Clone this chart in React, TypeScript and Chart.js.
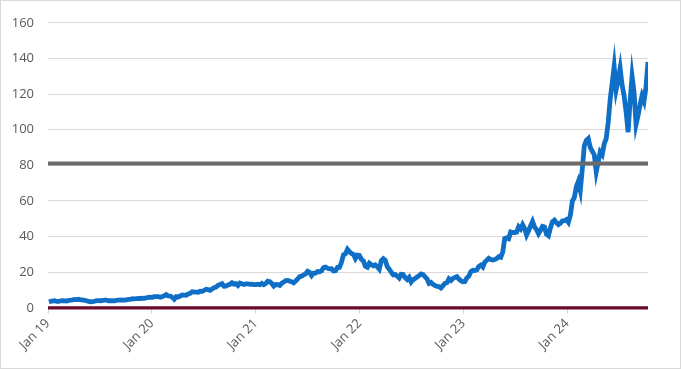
import React, { useEffect, useRef } from "react";
import Chart from "chart.js/auto";

// Weekly closing prices (split-adjusted), first week ends Fri 4 Jan 2019
const prices2019 = [3.4, 3.7, 3.9, 4.0, 3.6, 3.6, 3.95, 4.0, 3.95, 3.8, 4.2, 4.3, 4.5, 4.75, 4.65, 4.8, 4.5, 4.5, 4.15, 4.0, 3.6, 3.4, 3.55, 3.7, 4.05, 4.1, 4.0, 4.2, 4.3, 4.3, 4.0, 4.0, 4.1, 3.95, 4.2, 4.4, 4.5, 4.3, 4.3, 4.5, 4.7, 4.8, 5.1, 5.05, 5.2, 5.25, 5.25, 5.4, 5.35, 5.65, 5.9, 5.95];
const prices2020 = [5.9, 6.25, 6.3, 6.25, 5.9, 6.3, 6.75, 7.4, 6.7, 6.55, 5.95, 4.9, 6.3, 6.1, 6.65, 7.2, 7.15, 7.05, 7.8, 8.1, 9.05, 8.9, 8.8, 8.75, 9.3, 9.25, 9.75, 10.45, 10.2, 9.8, 10.6, 11.3, 11.6, 12.7, 13.15, 13.6, 12.15, 12.2, 12.85, 13.25, 14.1, 13.3, 13.55, 12.5, 13.9, 13.5, 13.15, 13.4, 13.5, 13.2, 13.25, 13.0];
const prices2021 = [13.05, 13.3, 13.0, 13.7, 13.0, 13.7, 14.95, 14.7, 13.7, 12.25, 13.1, 13.0, 12.6, 13.8, 14.45, 15.35, 15.4, 15.0, 14.6, 14.0, 15.0, 16.2, 17.55, 17.8, 18.6, 19.1, 20.5, 19.9, 18.1, 19.5, 19.5, 20.4, 20.3, 20.8, 22.6, 22.9, 22.2, 21.9, 22.0, 20.7, 20.8, 22.7, 22.7, 25.6, 29.8, 30.4, 32.9, 31.5, 30.6, 30.1, 27.7, 29.6, 29.4];
const prices2022 = [27.2, 26.4, 23.3, 22.8, 25.1, 24.2, 23.6, 24.1, 23.0, 21.7, 26.5, 27.6, 26.7, 23.2, 21.7, 20.0, 18.5, 18.7, 17.8, 16.7, 18.8, 18.7, 16.9, 15.9, 17.1, 14.5, 15.8, 16.5, 17.3, 18.1, 19.0, 18.7, 17.4, 16.3, 13.7, 14.3, 13.2, 12.5, 12.1, 12.0, 11.2, 12.5, 13.8, 14.1, 16.3, 15.4, 16.5, 17.1, 17.5, 16.2, 15.2, 14.6];
const prices2023 = [14.8, 16.8, 17.8, 20.3, 21.1, 20.9, 21.3, 23.3, 24.0, 22.9, 25.7, 26.7, 27.8, 27.1, 26.8, 27.1, 27.7, 28.7, 28.4, 31.2, 38.9, 39.3, 38.8, 42.6, 42.3, 42.3, 42.5, 45.5, 44.3, 46.7, 44.6, 40.9, 43.3, 46.0, 48.5, 45.5, 43.9, 41.6, 43.5, 45.7, 45.4, 41.3, 40.5, 45.0, 48.3, 49.2, 47.8, 46.7, 47.5, 48.8, 48.9, 49.5];
const prices2024 = [48.0, 52.0, 60.0, 62.0, 68.0, 71.0, 66.0, 78.0, 91.0, 94.0, 95.0, 90.0, 88.0, 86.0, 76.4, 82.0, 87.5, 86.0, 92.0, 95.0, 104.0, 117.0, 126.0, 135.5, 122.5, 128.0, 134.5, 125.0, 119.0, 110.0, 98.6, 116.0, 130.0, 121.0, 103.0, 108.0, 114.0, 119.0, 116.0, 124.0, 138.0];

const thresholdValue = 81;
const baselineValue = 0;

// x axis in days since 1 Jan 2019
const firstDay = 3;
const daysPerStep = 7;
const tickDays = [0, 365, 731, 1096, 1461, 1826];
const tickLabels = ["Jan 19", "Jan 20", "Jan 21", "Jan 22", "Jan 23", "Jan 24"];
const yTicks = { min: 0, max: 160, step: 20 };

export default function App() {
  const ref = useRef<HTMLCanvasElement | null>(null);

  useEffect(() => {
    document.body.style.margin = "0";
    const prices = [...prices2019, ...prices2020, ...prices2021, ...prices2022, ...prices2023, ...prices2024];
    const series = prices.map((v, i) => ({ x: firstDay + i * daysPerStep, y: v }));
    const lastDay = series[series.length - 1].x;

    const chart = new Chart(ref.current as HTMLCanvasElement, {
      type: "line",
      data: {
        datasets: [
          {
            data: series,
            borderColor: "#0f6fc6",
            borderWidth: 4.8,
            pointRadius: 0,
            tension: 0,
            order: 3,
          },
          {
            data: [{ x: 0, y: thresholdValue }, { x: lastDay, y: thresholdValue }],
            borderColor: "#6a6a6a",
            borderWidth: 4,
            pointRadius: 0,
            clip: false,
            order: 2,
          },
          {
            data: [{ x: 0, y: baselineValue }, { x: lastDay, y: baselineValue }],
            borderColor: "#6b0a2d",
            borderWidth: 3.3,
            pointRadius: 0,
            clip: false,
            order: 1,
          },
        ],
      },
      options: {
        animation: false,
        responsive: true,
        maintainAspectRatio: false,
        layout: { padding: { top: 5.2, right: 32, left: 0, bottom: 13 } },
        plugins: { legend: { display: false }, tooltip: { enabled: false } },
        scales: {
          x: {
            type: "linear",
            min: 0,
            max: lastDay,
            afterBuildTicks: (scale: any) => {
              scale.ticks = tickDays.map((v) => ({ value: v }));
            },
            afterFit: (scale: any) => {
              scale.paddingLeft = 0;
              scale.paddingRight = 0;
            },
            grid: { drawOnChartArea: false, drawTicks: true, tickLength: 6, color: "#d9d9d9" },
            border: { display: false },
            ticks: {
              autoSkip: false,
              maxRotation: 45,
              minRotation: 45,
              padding: 2,
              color: "#595959",
              font: { family: "'Open Sans'", size: 13 },
              callback: (_v: any, i: number) => tickLabels[i],
            },
          },
          y: {
            min: yTicks.min,
            max: yTicks.max,
            afterFit: (scale: any) => {
              scale.width = 47;
            },
            ticks: {
              stepSize: yTicks.step,
              padding: 14,
              color: "#595959",
              font: { family: "'Open Sans'", size: 13 },
            },
            grid: { color: "#d9d9d9", drawTicks: false },
            border: { display: false },
          },
        },
      },
    });
    return () => chart.destroy();
  }, []);

  return (
    <div
      style={{
        width: 681,
        height: 369,
        boxSizing: "border-box",
        border: "1px solid #d9d9d9",
        position: "relative",
        background: "#fff",
      }}
    >
      <canvas ref={ref} />
    </div>
  );
}
